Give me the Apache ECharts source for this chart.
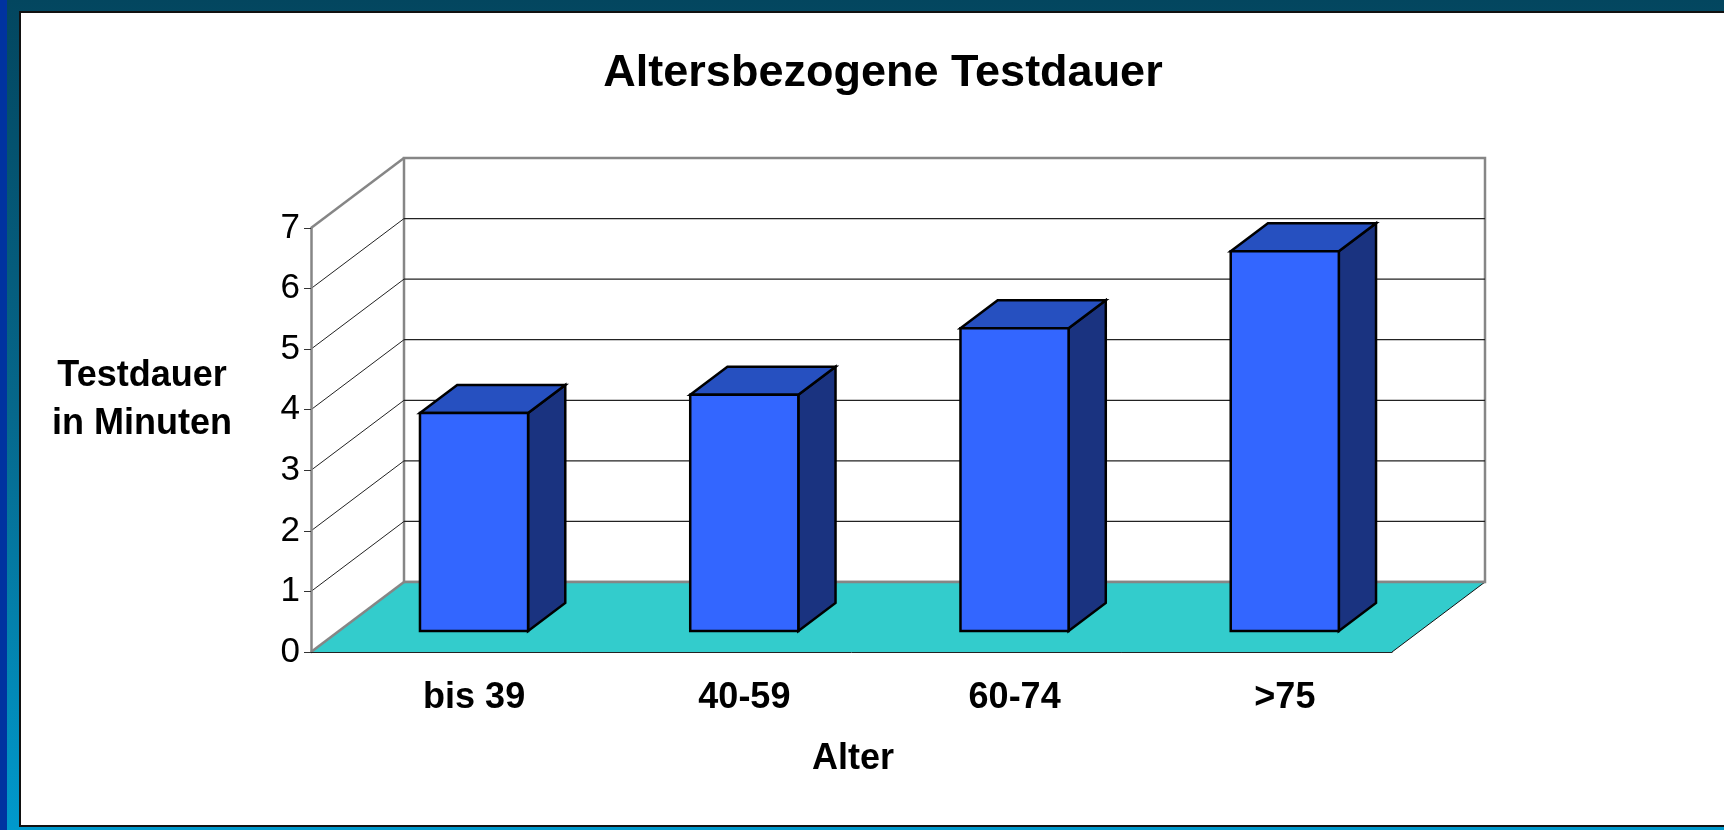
<!DOCTYPE html>
<html>
<head>
<meta charset="utf-8">
<title>Altersbezogene Testdauer</title>
<script src="https://cdn.jsdelivr.net/npm/echarts@6/dist/echarts.min.js"></script>
<style>
  html, body { margin: 0; padding: 0; }
  body {
    width: 1724px; height: 830px; position: relative; overflow: hidden;
    background: linear-gradient(to bottom, #03465f 0%, #06688c 50%, #0099cc 100%);
  }
  #stripe { position: absolute; left: 0; top: 0; width: 7px; height: 830px; background: #0033a0; }
  #panel {
    position: absolute; left: 19px; top: 11px; width: 1705px; height: 816px;
    box-sizing: border-box; background: #fff;
    border-left: 2px solid #111; border-top: 2px solid #111; border-bottom: 2px solid #111;
  }
  #chart { position: absolute; left: 0; top: 0; width: 1724px; height: 830px; }
</style>
</head>
<body>
<div id="stripe"></div>
<div id="panel"></div>
<div id="chart"></div>
<script>
// Daten
const categories = ['bis 39', '40-59', '60-74', '>75'];
const testdauer = [3.6, 3.9, 5.0, 6.27];
const yTicks = [0, 1, 2, 3, 4, 5, 6, 7];

// 3D-Projektion: Versatz der Rückwand gegenüber der Vorderkante
const DEPTH_X = 93;
const DEPTH_Y = -70;
const BAR_FRONT = 0.3;   // Tiefe der Säulen-Vorderseite (Anteil)
const BAR_BACK = 0.7;
const BAR_WIDTH = 0.4;   // Anteil der Kategoriebreite

const FONT = 'Liberation Sans, Arial, sans-serif';
const WALL_EDGE = '#868686';
const GRID_LINE = '#222';

const chart = echarts.init(document.getElementById('chart'), null, { renderer: 'canvas' });

// Wände, Boden und Gitterlinien
function renderWalls(params, api) {
  const cs = params.coordSys;
  const x0 = cs.x;
  const x1 = cs.x + cs.width;
  const yZero = api.coord([0, yTicks[0]])[1];
  const yTop = api.coord([0, yTicks[yTicks.length - 1]])[1];
  const children = [];

  children.push({
    type: 'polygon',
    shape: { points: [[x0, yZero], [x0 + DEPTH_X, yZero + DEPTH_Y], [x0 + DEPTH_X, yTop + DEPTH_Y], [x0, yTop]] },
    style: { fill: '#fff' }
  });
  children.push({
    type: 'rect',
    shape: { x: x0 + DEPTH_X, y: yTop + DEPTH_Y, width: cs.width, height: yZero - yTop },
    style: { fill: '#fff', stroke: WALL_EDGE, lineWidth: 2.5 }
  });

  yTicks.slice(1, -1).forEach(v => {
    const y = api.coord([0, v])[1];
    children.push({
      type: 'line',
      shape: { x1: x0, y1: y, x2: x0 + DEPTH_X, y2: y + DEPTH_Y },
      style: { stroke: GRID_LINE, lineWidth: 1 }
    });
    children.push({
      type: 'line',
      shape: { x1: x0 + DEPTH_X, y1: y + DEPTH_Y, x2: x1 + DEPTH_X, y2: y + DEPTH_Y },
      style: { stroke: GRID_LINE, lineWidth: 1.2 }
    });
  });

  children.push({
    type: 'polygon',
    shape: { points: [[x0, yZero], [x1, yZero], [x1 + DEPTH_X, yZero + DEPTH_Y], [x0 + DEPTH_X, yZero + DEPTH_Y]] },
    style: { fill: '#33cccc' }
  });
  children.push({
    type: 'line',
    shape: { x1: x1, y1: yZero, x2: x1 + DEPTH_X, y2: yZero + DEPTH_Y },
    style: { stroke: '#111', lineWidth: 1 }
  });
  children.push({
    type: 'line',
    shape: { x1: x0, y1: yZero, x2: x0 + DEPTH_X, y2: yZero + DEPTH_Y },
    style: { stroke: WALL_EDGE, lineWidth: 2.5 }
  });
  children.push({
    type: 'line',
    shape: { x1: x0, y1: yTop, x2: x0 + DEPTH_X, y2: yTop + DEPTH_Y },
    style: { stroke: WALL_EDGE, lineWidth: 2.5 }
  });
  children.push({
    type: 'line',
    shape: { x1: x0 + DEPTH_X, y1: yZero + DEPTH_Y, x2: x1 + DEPTH_X, y2: yZero + DEPTH_Y },
    style: { stroke: WALL_EDGE, lineWidth: 2.5 }
  });

  return { type: 'group', children };
}

// Säulen als Quader
function renderBar(params, api) {
  const idx = api.value(0);
  const top = api.coord([idx, api.value(1)]);
  const base = api.coord([idx, 0]);
  const w = api.size([1, 0])[0] * BAR_WIDTH;
  const left = top[0] - w / 2;
  const right = top[0] + w / 2;
  const fx = DEPTH_X * BAR_FRONT, fy = DEPTH_Y * BAR_FRONT;
  const bx = DEPTH_X * BAR_BACK, by = DEPTH_Y * BAR_BACK;
  const edge = { stroke: '#000', lineWidth: 2.5, lineJoin: 'miter' };

  return {
    type: 'group',
    children: [
      {
        type: 'polygon',
        shape: { points: [[right + fx, top[1] + fy], [right + bx, top[1] + by], [right + bx, base[1] + by], [right + fx, base[1] + fy]] },
        style: Object.assign({ fill: '#1a3380' }, edge)
      },
      {
        type: 'polygon',
        shape: { points: [[left + fx, top[1] + fy], [right + fx, top[1] + fy], [right + bx, top[1] + by], [left + bx, top[1] + by]] },
        style: Object.assign({ fill: '#2650c0' }, edge)
      },
      {
        type: 'rect',
        shape: { x: left + fx, y: top[1] + fy, width: w, height: base[1] - top[1] },
        style: Object.assign({ fill: '#3366ff' }, edge)
      }
    ]
  };
}

const option = {
  animation: false,
  title: [
    {
      text: 'Altersbezogene Testdauer',
      left: 878, top: 46, textAlign: 'center',
      textStyle: { fontFamily: FONT, fontWeight: 'bold', fontSize: 45, color: '#000' }
    },
    {
      text: 'Testdauer\nin Minuten',
      left: 137, top: 347, textAlign: 'center',
      textStyle: { fontFamily: FONT, fontWeight: 'bold', fontSize: 36, lineHeight: 48, color: '#000' }
    },
    {
      text: 'Alter',
      left: 848, top: 736, textAlign: 'center',
      textStyle: { fontFamily: FONT, fontWeight: 'bold', fontSize: 36, color: '#000' }
    }
  ],
  grid: { left: 311, top: 228, width: 1081, height: 424 },
  xAxis: {
    type: 'category',
    data: categories,
    z: 10,
    axisLine: { lineStyle: { color: '#222', width: 1 } },
    axisTick: { length: 8, lineStyle: { color: '#333', width: 1 } },
    axisLabel: {
      fontFamily: FONT, fontWeight: 'bold', fontSize: 36, color: '#000',
      margin: 28, padding: [0, 0, 0, 56]
    },
    splitLine: { show: false }
  },
  yAxis: {
    type: 'value',
    min: yTicks[0], max: yTicks[yTicks.length - 1], interval: 1,
    z: 10,
    axisLine: { show: true, lineStyle: { color: WALL_EDGE, width: 2.5 } },
    axisTick: { show: true, length: 7, lineStyle: { color: '#333', width: 1 } },
    axisLabel: { fontFamily: FONT, fontSize: 35, color: '#000', margin: 11 },
    splitLine: { show: false }
  },
  series: [
    {
      type: 'custom',
      renderItem: renderWalls,
      data: [[0, 0]],
      z: 1,
      silent: true
    },
    {
      type: 'custom',
      renderItem: renderBar,
      encode: { x: 0, y: 1 },
      data: testdauer.map((v, i) => [i, v]),
      z: 3
    }
  ]
};

chart.setOption(option);
</script>
</body>
</html>
